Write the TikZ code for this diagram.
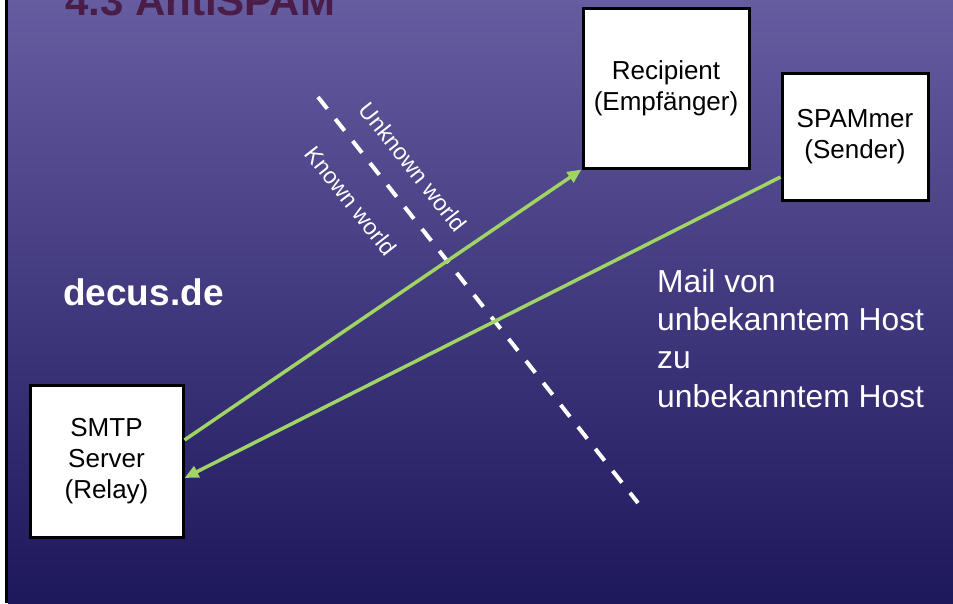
\documentclass[tikz,border=0pt]{standalone}
\usepackage{fontspec}
\setmainfont{Liberation Sans}
\usetikzlibrary{arrows.meta}
\definecolor{bgtop}{RGB}{102,92,160}
\definecolor{bgbot}{RGB}{29,23,92}
\definecolor{arrowgreen}{RGB}{160,212,100}
\definecolor{titlecol}{RGB}{74,28,72}
\tikzset{
  hostbox/.style={draw=black, line width=3pt, fill=white, inner sep=0pt, align=center,
    font=\fontsize{26}{31}\selectfont},
  flow/.style={draw=arrowgreen, line width=3.5pt, -{Triangle[length=14pt,width=12pt]}},
  border/.style={draw=white, line width=4pt, dash pattern=on 15pt off 13pt},
  worldlbl/.style={text=white, font=\fontsize{23}{27}\selectfont, rotate=-51.75, inner sep=0pt},
}
\begin{document}
\begin{tikzpicture}[x=1pt,y=-1pt]
\useasboundingbox (0,0) rectangle (953,603);
\clip (0,0) rectangle (953,603);
\fill[white] (0,0) rectangle (5,603);
\fill[black] (5,0) rectangle (8,603);
\shade[top color=bgtop, bottom color=bgbot] (8,-1) rectangle (954,604);

\node[anchor=base west, text=titlecol, font=\bfseries\fontsize{42}{48}\selectfont, inner sep=0pt] (title) at (65,15) {4.3 AntiSPAM};

\node[hostbox, minimum width=166pt, minimum height=160pt] (rcpt) at (666,88) {Recipient\\(Empfänger)};
\node[hostbox, minimum width=146pt, minimum height=127pt] (spam) at (855,136.5) {SPAMmer\\(Sender)};
\node[hostbox, minimum width=153pt, minimum height=152pt] (smtp) at (106.5,461) {SMTP\\Server\\(Relay)};

\node[anchor=base west, text=white, font=\bfseries\fontsize{37}{44}\selectfont, inner sep=0pt] (dom) at (63,305) {decus.de};

\node[anchor=base west, text=white, align=left, font=\fontsize{31.8}{38.3}\selectfont, inner sep=0pt] (mail) at (657,407) {Mail von\\unbekanntem Host\\zu\\unbekanntem Host};

\coordinate (d1) at (318,97);
\coordinate (d2) at (638,503);
\draw[border] (d1) -- (d2);

\node[worldlbl] (unk) at (413,167) {Unknown world};
\node[worldlbl] (kn) at (351,201) {Known world};

\draw[flow] ([yshift=21pt]smtp.east) -- (rcpt.south west);
\draw[flow] ([yshift=-40.5pt]spam.west) -- ([yshift=-17pt]smtp.east);
\end{tikzpicture}
\end{document}
